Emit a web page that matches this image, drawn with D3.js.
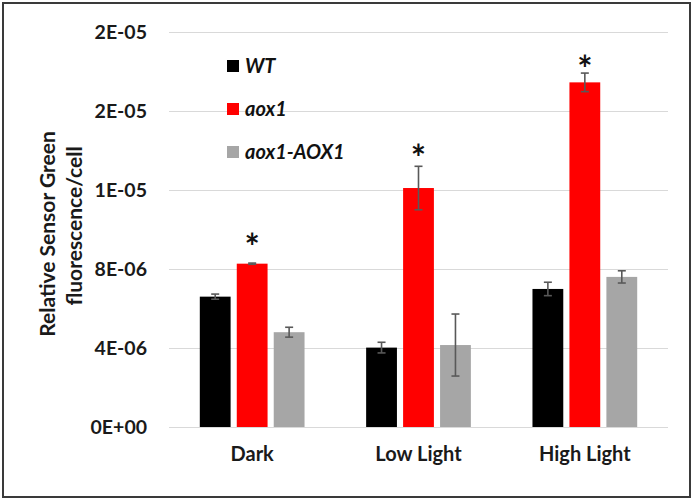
<!DOCTYPE html>
<html>
<head>
<meta charset="utf-8">
<script src="https://cdn.jsdelivr.net/npm/d3@7/dist/d3.min.js"></script>
<style>
  html, body { margin: 0; padding: 0; background: #fff; }
  svg { display: block; }
</style>
</head>
<body>
<svg id="chart" width="693" height="500"></svg>
<script>
const categories = ["Dark", "Low Light", "High Light"];
const seriesNames = ["WT", "aox1", "aox1-AOX1"];
const seriesColors = ["#000000", "#ff0000", "#a6a6a6"];
const wtValues   = [6.6e-6, 4.02e-6, 6.99e-6];
const aox1Values = [8.27e-6, 12.1e-6, 17.45e-6];
const compValues = [4.8e-6, 4.15e-6, 7.6e-6];
const wtErrors   = [0.13e-6, 0.27e-6, 0.34e-6];
const aox1Errors = [0.03e-6, 1.1e-6, 0.47e-6];
const compErrors = [0.25e-6, 1.57e-6, 0.31e-6];
// significance markers on the aox1 series, at these heights (data units)
const asteriskLevels = [9.47e-6, 14.0e-6, 18.5e-6];
const tickValues = [0, 4e-6, 8e-6, 1.2e-5, 1.6e-5, 2e-5];
const tickLabels = ["0E+00", "4E-06", "8E-06", "1E-05", "2E-05", "2E-05"];
const yTitleLines = ["Relative Sensor Green", "fluorescence/cell"];

const values = [wtValues, aox1Values, compValues];
const errors = [wtErrors, aox1Errors, compErrors];

const svg = d3.select("#chart");
const W = 693, H = 500;
const plot = { left: 169, right: 668, top: 32, bottom: 427 };
const font = "Lato, 'Open Sans', sans-serif";

// frame
svg.append("rect").attr("x", 3).attr("y", 3).attr("width", W - 6).attr("height", H - 6)
  .attr("fill", "#fff").attr("stroke", "#3a3a3a").attr("stroke-width", 2);

const x0 = d3.scaleBand().domain(categories).range([plot.left, plot.right]).paddingInner(0).paddingOuter(0);
const y = d3.scaleLinear().domain([0, 2e-5]).range([plot.bottom, plot.top]);

// group layout within category: gap width 200%, overlap -20%
const barW = x0.bandwidth() / (3 + 2 * 0.2 + 2.0);
const x1 = d3.scaleBand().domain(seriesNames)
  .range([0, barW * 3 + barW * 0.4]).paddingInner(0.2 / 1.2).paddingOuter(0);

// gridlines + tick labels
const yAxis = d3.axisLeft(y).tickValues(tickValues)
  .tickFormat((d, i) => tickLabels[i])
  .tickSize(-(plot.right - plot.left)).tickPadding(22);
const gy = svg.append("g").attr("transform", `translate(${plot.left},0)`).call(yAxis);
gy.select(".domain").remove();
gy.selectAll(".tick line").attr("stroke", "#d9d9d9").attr("stroke-width", 1.2);
gy.selectAll(".tick text").attr("font-family", font).attr("font-size", 19.5)
  .attr("font-weight", 700).attr("fill", "#1a1a1a");

// bars
const groupOffset = (x0.bandwidth() - (x1.range()[1])) / 2;
seriesNames.forEach((s, si) => {
  const g = svg.append("g");
  categories.forEach((c, ci) => {
    const bx = x0(c) + groupOffset + x1(s);
    const bw = x1.bandwidth();
    const v = values[si][ci];
    g.append("rect").attr("x", bx).attr("y", y(v)).attr("width", bw)
      .attr("height", y(0) - y(v)).attr("fill", seriesColors[si]);
    const e = errors[si][ci];
    const cx = bx + bw / 2;
    const eg = g.append("g").attr("stroke", "#595959").attr("stroke-width", 1.6);
    eg.append("line").attr("x1", cx).attr("x2", cx).attr("y1", y(v + e)).attr("y2", y(v - e));
    eg.append("line").attr("x1", cx - 4).attr("x2", cx + 4).attr("y1", y(v + e)).attr("y2", y(v + e));
    eg.append("line").attr("x1", cx - 4).attr("x2", cx + 4).attr("y1", y(v - e)).attr("y2", y(v - e));
    if (si === 1) {
      g.append("text").attr("x", cx).attr("y", y(asteriskLevels[ci]) + 20)
        .attr("text-anchor", "middle").attr("font-family", font)
        .attr("font-size", 36).attr("font-weight", 700).attr("fill", "#111")
        .text("*");
    }
  });
});

// x axis labels
const xAxis = d3.axisBottom(x0).tickSize(0).tickPadding(20);
const gx = svg.append("g").attr("transform", `translate(0,${plot.bottom})`).call(xAxis);
gx.select(".domain").remove();
gx.selectAll(".tick text").attr("font-family", font).attr("font-size", 20)
  .attr("font-weight", 700).attr("fill", "#1a1a1a");

// y title
const titlePos = [[55, 234], [82, 226]];
yTitleLines.forEach((t, i) => {
  svg.append("text").attr("transform", `translate(${titlePos[i][0]},${titlePos[i][1]}) rotate(-90)`)
    .attr("text-anchor", "middle").attr("font-family", font).attr("font-size", 21)
    .attr("font-weight", 700).attr("fill", "#1a1a1a").text(t);
});

// legend
const legY = [66, 109, 152];
seriesNames.forEach((s, i) => {
  svg.append("rect").attr("x", 227).attr("y", legY[i] - 6).attr("width", 12).attr("height", 12)
    .attr("fill", seriesColors[i]);
  svg.append("text").attr("x", 245).attr("y", legY[i]).attr("dy", "0.35em")
    .attr("font-family", font).attr("font-size", 20).attr("font-weight", 700)
    .attr("font-style", "italic").attr("fill", "#111").text(s);
});
</script>
</body>
</html>
